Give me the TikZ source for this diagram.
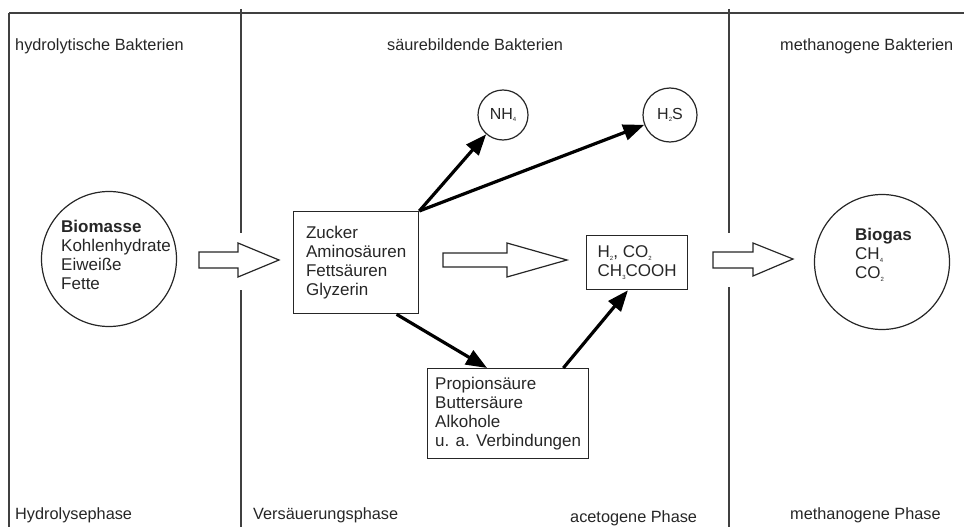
\documentclass[tikz,border=0pt]{standalone}
\usepackage{fontspec}
\setmainfont{Liberation Sans}
\usetikzlibrary{arrows.meta,calc}
\newcommand{\lowsub}[1]{\raisebox{-2.5pt}{\fontsize{6}{6}\selectfont #1}}
\begin{document}
\begin{tikzpicture}[x=1pt,y=-1pt,
  txt/.style={font=\fontsize{17}{19}\selectfont, text=black!85, inner sep=0pt},
  lbl/.style={font=\fontsize{16.3}{19}\selectfont, text=black!85, inner sep=0pt, anchor=base west},
  frame/.style={draw=black!75, line width=1.3pt},
  boxnode/.style={draw=black!85, line width=1.3pt, rectangle, align=left,
     font=\fontsize{17}{19}\selectfont, text=black!85, inner sep=0pt},
  circnode/.style={draw=black!85, line width=1.2pt, circle, inner sep=0pt},
  flow/.style={-{Triangle[length=21pt,width=16pt]}, line width=3.2pt, black},
  blockarrow/.style={draw=black!85, line width=1.2pt, fill=white, line join=miter}
]
\useasboundingbox (0,0) rectangle (964,527);
% frame lines
\draw[frame] (9,13) -- (964,13);
\draw[frame] (9,13) -- (9,527);
\draw[frame] (241,9) -- (241,233);
\draw[frame] (241,290) -- (241,527);
\draw[frame] (729,9) -- (729,233);
\draw[frame] (729,287) -- (729,527);
% headers
\node[lbl] (h1) at (15,51) {hydrolytische Bakterien};
\node[lbl] (h2) at (387,51) {säurebildende Bakterien};
\node[lbl] (h3) at (780,51) {methanogene Bakterien};
% footers
\node[lbl] (f1) at (15,519) {Hydrolysephase};
\node[lbl] (f2) at (253,519) {Versäuerungsphase};
\node[lbl] (f3) at (570,522) {acetogene Phase};
\node[lbl] (f4) at (790,519) {methanogene Phase};
% Biomasse
\node[circnode, minimum size=135pt] (biomasse) at (109,259) {};
\node[txt, anchor=north west, align=left] (biomassetxt) at (61,220)
  {\textbf{Biomasse}\\Kohlenhydrate\\Eiweiße\\Fette};
% block arrow 1
\draw[blockarrow] (199,252) -- (238,252) -- (238,243) -- (279,260) -- (238,277) -- (238,268) -- (199,268) -- cycle;
% Zucker box
\node[boxnode, anchor=north west, minimum width=125pt, minimum height=102pt] (zucker) at (293,211)
  {Zucker\\Aminosäuren\\Fettsäuren\\Glyzerin};
% NH4, H2S circles
\node[circnode, minimum size=50pt, font=\fontsize{16}{19}\selectfont, text=black!85] (nh4) at (503,115) {NH\lowsub{4}};
\node[circnode, minimum size=54pt, font=\fontsize{16}{19}\selectfont, text=black!85] (h2s) at (670,115) {H\lowsub{2}S};
% block arrow 2
\draw[blockarrow] (443,253) -- (507,253) -- (507,243) -- (567,260) -- (507,277) -- (507,267) -- (443,267) -- cycle;
% H2 box
\node[boxnode, anchor=north west, minimum width=101pt, minimum height=54pt] (h2box) at (586,235)
  {H\lowsub{2}, CO\lowsub{2}\\CH\lowsub{3}COOH};
% Propion box
\node[boxnode, anchor=north west, minimum width=161pt, minimum height=90pt] (propion) at (427,368)
  {Propionsäure\\Buttersäure\\Alkohole\\u. a. Verbindungen};
% block arrow 3
\draw[blockarrow] (713,252) -- (753,252) -- (753,243) -- (793,259) -- (753,276) -- (753,268) -- (713,268) -- cycle;
% Biogas
\node[circnode, minimum size=135pt] (biogas) at (882,262) {};
\node[txt, anchor=north west, align=left] (biogastxt) at (855,228)
  {\textbf{Biogas}\\CH\lowsub{4}\\CO\lowsub{2}};
% arrows
\draw[flow] (zucker.north east) -- (nh4);
\draw[flow] (zucker.north east) -- (h2s);
\draw[flow] ($(zucker.south west)!0.82!(zucker.south east)$) -- ($(propion.north west)!0.37!(propion.north east)$);
\draw[flow] ($(propion.north west)!0.84!(propion.north east)$) -- ($(h2box.south west)!0.41!(h2box.south east)$);
\end{tikzpicture}
\end{document}
